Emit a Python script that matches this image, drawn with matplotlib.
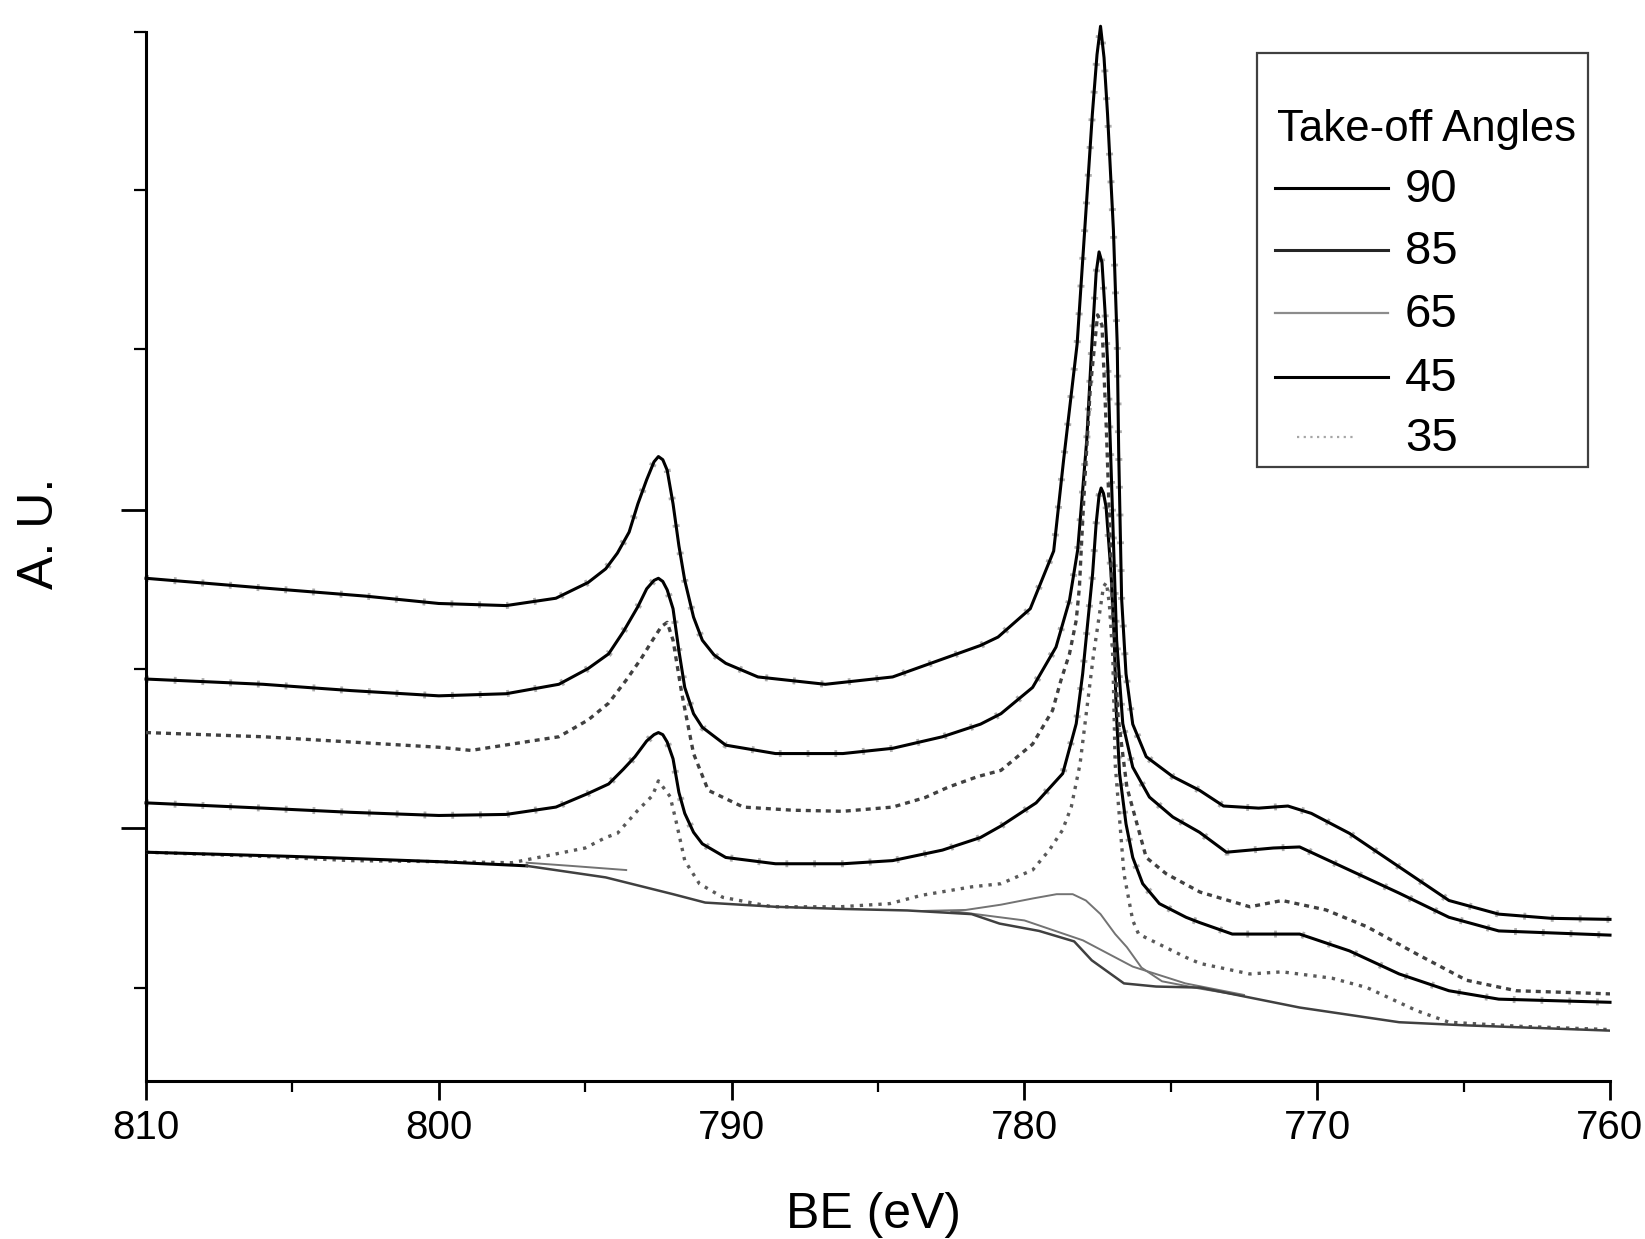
import matplotlib
matplotlib.use('Agg')
import matplotlib.pyplot as plt
from matplotlib.patches import Rectangle
from matplotlib.lines import Line2D

plt.rcParams['font.family'] = ['Liberation Sans', 'DejaVu Sans']

# spectra: binding energy (eV) and intensity (a.u., offset stacked)
be_90 = [810, 806.1, 802.5, 800, 797.7, 796, 794.9, 794.3, 793.9, 793.5, 793.2, 792.9, 792.65,
         792.5, 792.35, 792.2, 792.0, 791.8, 791.6, 791.3, 791.0, 790.6, 790.2, 789.1, 786.8,
         784.5, 782.6, 781.5, 780.9, 779.8, 779.0, 778.66, 778.2, 777.94, 777.68, 777.52, 777.4,
         777.28, 777.16, 776.96, 776.83, 776.78, 776.68, 776.53, 776.3, 775.84, 774.93, 774.02,
         773.2, 772.0, 771.0, 770.2, 768.9, 767.2, 765.5, 763.8, 762, 760]
i_90 = [47.9, 47.0, 46.2, 45.5, 45.3, 46.0, 47.5, 48.8, 50.3, 52.3, 55.0, 57.3, 59.0,
        59.5, 59.2, 58.2, 55.0, 51.0, 47.7, 44.2, 42.0, 40.6, 39.8, 38.5, 37.8,
        38.5, 40.4, 41.5, 42.3, 45.0, 50.5, 59.2, 70.2, 81.1, 92.1, 97.8, 100.5,
        97.5, 92.1, 81.1, 70.2, 60.0, 46.0, 38.8, 34.0, 30.9, 29.0, 27.7,
        26.2, 26.0, 26.2, 25.5, 23.6, 20.4, 17.2, 15.9, 15.5, 15.4]

be_85 = [810, 806, 803, 800, 797.7, 795.9, 794.9, 794.2, 793.7, 793.2, 792.9, 792.65, 792.5,
         792.35, 792.2, 792.0, 791.8, 791.6, 791.3, 791.0, 790.2, 788.5, 786.2, 784.5, 782.8,
         781.5, 780.8, 779.72, 778.92, 778.46, 778.18, 778.01, 777.87, 777.7, 777.55, 777.45,
         777.35, 777.25, 777.15, 777.0, 776.85, 776.64, 776.3, 775.73, 774.93, 774.02, 773.1,
         771.5, 770.6, 768.9, 767.2, 765.5, 763.8, 760]
i_85 = [38.3, 37.8, 37.2, 36.7, 36.9, 37.8, 39.3, 40.7, 42.8, 45.2, 46.9, 47.7, 47.9,
        47.6, 46.8, 45.0, 41.0, 37.5, 35.0, 33.7, 32.0, 31.2, 31.2, 31.7, 32.8,
        34.0, 35.0, 37.5, 41.35, 45.8, 50.6, 56.3, 61.1, 70.0, 77.0, 79.0,
        78.0, 73.5, 68.0, 55.0, 42.0, 34.05, 29.9, 27.05, 25.15, 23.7, 21.8,
        22.2, 22.3, 20.1, 17.9, 15.6, 14.3, 13.9]

be_65 = [810, 806, 803, 800, 798.9, 796.6, 795.9, 794.9, 794.2, 793.6, 793.1, 792.7, 792.4,
         792.2, 792.0, 791.7, 791.3, 790.8, 789.6, 787.9, 786.2, 784.5, 783.4, 782.6, 781.6,
         780.8, 779.72, 779.04, 778.75, 778.46, 778.23, 778.12, 778.06, 777.95, 777.75, 777.5,
         777.35, 777.2, 777.0, 776.8, 776.5, 775.84, 775.16, 774.0, 772.3, 771.2, 769.7, 768.3,
         766.6, 764.9, 763.2, 760]
i_65 = [33.2, 32.8, 32.3, 31.8, 31.5, 32.5, 32.8, 34.4, 36.0, 38.2, 40.2, 42.0, 43.3,
        43.7, 42.0, 36.9, 31.2, 27.7, 26.1, 25.8, 25.7, 26.1, 27.0, 28.0, 29.0,
        29.6, 32.1, 35.3, 38.2, 40.7, 43.9, 47.1, 50.6, 56.6, 66.0, 73.0,
        72.0, 62.0, 46.0, 34.7, 28.0, 21.3, 19.75, 18.0, 16.6, 17.2, 16.3, 14.7,
        12.1, 9.6, 8.6, 8.3]

be_45 = [810, 806, 803, 800, 797.7, 796, 794.9, 794.2, 793.7, 793.3, 792.9, 792.65, 792.5,
         792.35, 792.2, 792.0, 791.8, 791.6, 791.3, 791.0, 790.2, 788.5, 786.2, 784.5, 782.8,
         781.5, 780.8, 779.6, 778.69, 778.23, 778.01, 777.84, 777.67, 777.55, 777.45, 777.38,
         777.3, 777.21, 777.04, 776.93, 776.87, 776.75, 776.53, 776.3, 775.96, 775.39, 774.48,
         774.02, 772.9, 770.6, 768.9, 767.2, 765.5, 763.8, 760]
i_45 = [26.5, 26.0, 25.6, 25.3, 25.4, 26.1, 27.4, 28.3, 29.7, 30.9, 32.4, 33.0, 33.2,
        33.0, 32.3, 30.7, 27.5, 25.5, 23.7, 22.6, 21.3, 20.7, 20.7, 21.0, 22.0,
        23.2, 24.3, 26.5, 29.3, 34.05, 38.8, 43.6, 48.35, 53.1, 55.8, 56.5,
        56.0, 54.7, 48.35, 42.0, 35.6, 29.3, 24.5, 21.3, 18.8, 16.9, 15.6,
        15.1, 14.0, 14.0, 12.4, 10.2, 8.6, 7.8, 7.5]

be_35 = [810, 806, 803, 800, 797.5, 796.6, 795.0, 794.3, 793.9, 793.2, 792.7, 792.5, 792.1,
         791.9, 791.6, 791.1, 790.3, 788.6, 786.3, 784.6, 783.5, 781.8, 780.8, 779.72, 779.15,
         778.7, 778.4, 778.1, 777.65, 777.3, 777.2, 777.1, 776.98, 776.9, 776.6, 776.3, 776.1,
         774.5, 774.0, 772.3, 771.2, 769.5, 768.3, 766.6, 765.5, 763, 760]
i_35 = [21.8, 21.4, 21.0, 20.9, 20.8, 21.3, 22.2, 23.2, 23.6, 25.8, 27.2, 28.6, 27.1,
        24.8, 21.0, 18.8, 17.5, 16.6, 16.6, 16.9, 17.7, 18.5, 18.8, 20.1, 22.0,
        23.9, 26.1, 30.2, 40.4, 47.1, 47.5, 45.5, 40.4, 30.2, 19.75, 15.3, 14.0,
        11.8, 11.2, 10.2, 10.4, 9.8, 8.9, 6.7, 5.6, 5.2, 4.9]

# fitted background and components of the 35 deg spectrum
be_bg = [810, 805, 800, 797, 794.3, 792.0, 790.9, 788.5, 786.3, 784.0, 781.8, 780.85, 779.5,
         778.3, 777.7, 777.2, 776.6, 775.5, 774.0, 770.6, 767.2, 764.9, 760]
i_bg = [21.8, 21.4, 20.9, 20.5, 19.4, 17.8, 17.0, 16.6, 16.4, 16.25, 15.9, 15.0, 14.3,
        13.3, 11.5, 10.5, 9.3, 9.0, 8.9, 7.0, 5.6, 5.3, 4.8]
be_c1 = [797, 795.5, 793.6]
i_c1 = [20.8, 20.5, 20.1]
be_c2 = [783.5, 782.0, 780.8, 779.7, 778.9, 778.35, 777.9, 777.4, 776.9, 776.5, 776.0, 775.3, 774.0, 772.5]
i_c2 = [16.2, 16.3, 16.8, 17.4, 17.8, 17.8, 17.2, 15.9, 14.0, 12.75, 10.8, 9.5, 8.8, 8.1]
be_c3 = [782.5, 780.0, 778.0, 776.3, 774.5, 772.5]
i_c3 = [16.2, 15.3, 13.4, 10.9, 9.3, 8.2]

angles = ['90', '85', '65', '45', '35']
x_ticks = [810, 800, 790, 780, 770, 760]

W, H = 1645, 1239
fig = plt.figure(figsize=(W / 100, H / 100), dpi=100)
ax = fig.add_axes([146 / W, 1 - 1081 / H, 1464 / W, 1049.5 / H])

# faint dotted halo behind each fit line stands in for the measured points
noise = dict(color='0.68', lw=5.0, ls=(0, (0.4, 3.6)), zorder=2)
fit = dict(color='black', lw=2.2, zorder=3)

for be, it in [(be_90, i_90), (be_85, i_85), (be_45, i_45)]:
    ax.plot(be, it, **noise, clip_on=False)
    ax.plot(be, it, **fit, clip_on=False)

ax.plot(be_65, i_65, color='0.25', lw=2.4, ls=(0, (1.5, 1.5)), zorder=3)
ax.plot(be_35, i_35, color='0.35', lw=2.4, ls=(0, (1, 1.8)), zorder=3)

ax.plot(be_bg[:4], i_bg[:4], color='black', lw=2.2, zorder=3)
ax.plot(be_bg[3:], i_bg[3:], color='0.25', lw=1.8, zorder=3)
for be, it in [(be_c1, i_c1), (be_c2, i_c2), (be_c3, i_c3)]:
    ax.plot(be, it, color='0.45', lw=1.4, zorder=2)

ax.set_xlim(810, 760)
ax.set_ylim(0, 100)
for s in ['top', 'right']:
    ax.spines[s].set_visible(False)
for s in ['left', 'bottom']:
    ax.spines[s].set_linewidth(2.2)

ax.set_xticks(x_ticks)
ax.set_xticklabels([str(t) for t in x_ticks])
ax.set_xticks([805, 795, 785, 775, 765], minor=True)
ax.set_yticks([24.1, 54.4])
ax.set_yticks([8.9, 39.3, 69.7, 84.9, 100], minor=True)
ax.set_yticklabels([])
ax.tick_params(axis='x', which='major', length=14, width=2, labelsize=29, pad=6)
ax.tick_params(axis='x', which='minor', length=8, width=1.6)
ax.tick_params(axis='y', which='major', length=18, width=2)
ax.tick_params(axis='y', which='minor', length=9, width=1.6)

fig.text(874 / W, 1 - 1215 / H, 'BE (eV)', fontsize=36, ha='center', va='center')
fig.text(40 / W, 1 - 533 / H, 'A. U.', fontsize=36, rotation=90, ha='center', va='center')

# legend box drawn in figure pixels
def fx(px):
    return px / W

def fy(py):
    return 1 - py / H

fig.patches.append(Rectangle((fx(1257), fy(467)), fx(1588) - fx(1257), fy(53) - fy(467),
                             transform=fig.transFigure, fill=False, ec='0.25', lw=1.6))
fig.text(fx(1277), fy(130), 'Take-off Angles', fontsize=31.5, ha='left', va='center')
leg_styles = [dict(color='black', lw=2.2),
              dict(color='0.15', lw=2.2),
              dict(color='0.55', lw=1.6),
              dict(color='black', lw=2.2),
              dict(color='0.65', lw=1.6, ls=(0, (1, 2)))]
rows_y = [188, 250, 313, 377, 437]
for lab, st, ry in zip(angles, leg_styles, rows_y):
    x0, x1 = (1297, 1353) if lab == '35' else (1275, 1388)
    fig.lines.append(Line2D([fx(x0), fx(x1)], [fy(ry), fy(ry)], transform=fig.transFigure, **st))
    fig.text(fx(1405), fy(ry + 2), lab, fontsize=34, ha='left', va='center')

fig.savefig('out.png', dpi=100)
